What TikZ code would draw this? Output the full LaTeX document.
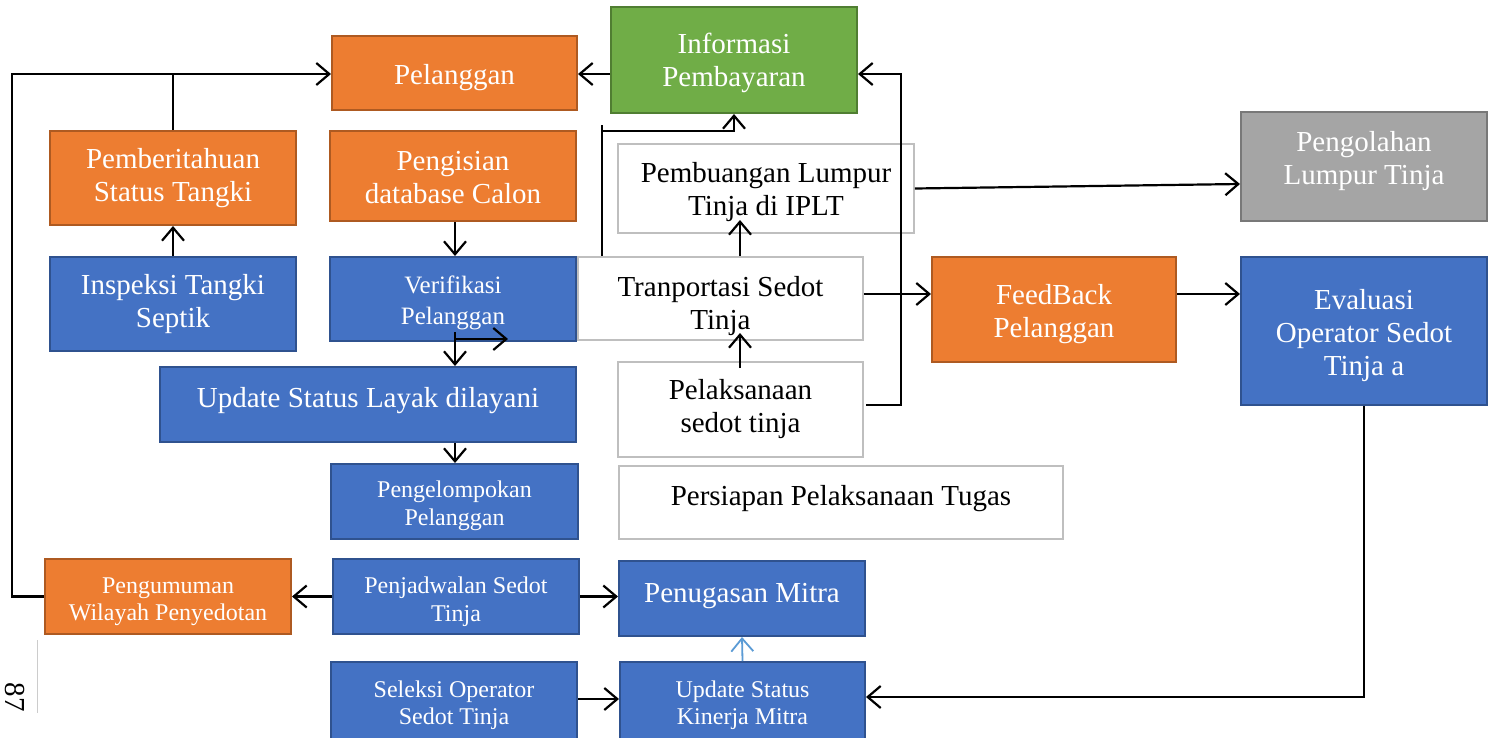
\documentclass[tikz,border=0pt]{standalone}
\usepackage{fontspec}
\setmainfont{Liberation Serif}
\usetikzlibrary{arrows.meta}
\definecolor{orgF}{HTML}{ED7D31}
\definecolor{orgD}{HTML}{AE5A21}
\definecolor{bluF}{HTML}{4472C4}
\definecolor{bluD}{HTML}{2F528F}
\definecolor{grnF}{HTML}{70AD47}
\definecolor{grnD}{HTML}{507E32}
\definecolor{gryF}{HTML}{A5A5A5}
\definecolor{gryD}{HTML}{787878}
\definecolor{wbD}{HTML}{BFBFBF}
\definecolor{ltblue}{HTML}{5B9BD5}
\newcommand\wst{\rule[-0.216em]{0pt}{1.107em}}
\newcommand\upby[1]{\rule[\dimexpr-0.216em-2\dimexpr#1\relax\relax]{0pt}{\dimexpr0.216em+2\dimexpr#1\relax\relax}}
\newcommand\downby[1]{\rule{0pt}{\dimexpr0.891em+2\dimexpr#1\relax\relax}}
\tikzset{
 box/.style={rectangle, inner sep=0pt, align=center, line width=2pt,
   execute at begin node=\wst, execute at end node=\wst},
 ob/.style={box, fill=orgF, draw=orgD, text=white},
 bb/.style={box, fill=bluF, draw=bluD, text=white},
 gb/.style={box, fill=grnF, draw=grnD, text=white},
 yb/.style={box, fill=gryF, draw=gryD, text=white},
 wb/.style={box, fill=white, draw=wbD, line width=1.6pt, text=black},
 big/.style={font=\fontsize{29}{33}\selectfont},
 mid/.style={font=\fontsize{25}{31}\selectfont},
 sml/.style={font=\fontsize{24}{27.5}\selectfont},
 arr/.style={line width=2.2pt, -{Straight Barb[length=13pt,width=22pt]}},
 ln/.style={line width=2.2pt},
 thinln/.style={line width=1.3pt},
}
\begin{document}
\begin{tikzpicture}[x=1pt,y=-1pt]
\useasboundingbox[fill=white] (0,0) rectangle (1489,737);
% boxes
\node[ob,big,minimum width=245pt,minimum height=74pt] (pel) at (454.5,73) {\downby{2pt}Pelanggan};
\node[gb,big,minimum width=246pt,minimum height=106pt] (inf) at (734,60) {\downby{0.5pt}Informasi\\Pembayaran};
\node[ob,big,minimum width=246pt,minimum height=94pt] (pem) at (173,178) {Pemberitahuan\\Status Tangki};
\node[ob,big,minimum width=246pt,minimum height=90pt] (pen) at (453,176) {\downby{1.5pt}Pengisian\\database Calon};
\node[bb,big,minimum width=246pt,minimum height=94pt] (ins) at (173,304) {Inspeksi Tangki\\Septik};
\node[bb,mid,minimum width=246pt,minimum height=84pt] (ver) at (453,299) {\downby{2pt}Verifikasi\\Pelanggan};
\node[wb,big,minimum width=285pt,minimum height=83pt] (tra) at (720.5,298.5) {\downby{5pt}Tranportasi Sedot\\Tinja};
\node[wb,big,minimum width=296pt,minimum height=89pt] (pbu) at (766,188.5) {\downby{1pt}Pembuangan Lumpur\\Tinja di IPLT};
\node[wb,big,minimum width=245pt,minimum height=95pt] (pla) at (740.5,409.5) {Pelaksanaan\\sedot tinja};
\node[ob,big,minimum width=244pt,minimum height=105pt] (fbk) at (1054,309.5) {\downby{1.5pt}FeedBack\\Pelanggan};
\node[yb,big,minimum width=246pt,minimum height=109pt] (pol) at (1364,166.5) {Pengolahan\\Lumpur Tinja\upby{5pt}};
\node[bb,big,minimum width=246pt,minimum height=148pt] (eva) at (1364,331) {\downby{2pt}Evaluasi\\Operator Sedot\\Tinja a};
\node[bb,big,minimum width=416pt,minimum height=75pt] (upl) at (368,404.5) {Update Status Layak dilayani\upby{7pt}};
\node[bb,sml,minimum width=247pt,minimum height=75pt] (pkl) at (454.5,501.5) {\downby{2pt}Pengelompokan\\Pelanggan};
\node[ob,sml,minimum width=246pt,minimum height=75pt] (pgm) at (168,596.5) {\downby{2.5pt}Pengumuman\\Wilayah Penyedotan};
\node[bb,sml,minimum width=246pt,minimum height=75pt] (pjd) at (456,596.5) {\downby{3pt}Penjadwalan Sedot\\Tinja};
\node[bb,big,minimum width=246pt,minimum height=75pt] (pgs) at (742,598.5) {Penugasan Mitra\upby{6pt}};
\node[bb,sml,minimum width=245pt,minimum height=80pt] (ukm) at (742.5,702) {\downby{1pt}Update Status\\Kinerja Mitra};
\node[bb,sml,minimum width=246pt,minimum height=80pt] (sel) at (454,702) {\downby{1pt}Seleksi Operator\\Sedot Tinja};
\node[wb,big,minimum width=444pt,minimum height=73pt] (per) at (841,502.5) {Persiapan Pelaksanaan Tugas\upby{7pt}};
% page number
\node[rotate=-90,font=\fontsize{29}{29}\selectfont] (pg) at (15,697) {87};
\coordinate (fl1) at (37,640);
\coordinate (fl2) at (37,713);
\draw[black!20,line width=0.8pt] (fl1) -- (fl2);
% helper coordinates
\coordinate (lft) at (12,0);
\coordinate (vj) at (455,332);
\coordinate (vs) at (455,339);
\coordinate (ve) at (508,339);
\coordinate (ek) at (1364,697);
\coordinate (fy) at (0,294);
\coordinate (pt) at (1241,184);
\coordinate (tx) at (740,220);
\coordinate (p0) at (740,368);
\coordinate (px) at (740,333);
\coordinate (pr) at (866,405);
\coordinate (vx) at (901,0);
\coordinate (t1) at (602,125);
\coordinate (h1) at (602,131);
\coordinate (h2) at (734,131);
\coordinate (ay) at (0,74);
\coordinate (sy) at (0,699);
% connectors
\draw[arr] (inf.west |- ay) -- (pel.east |- ay);
\draw[arr] (pgm.west) -- (pgm.west -| lft) -- (lft |- ay) -- (pel.west |- ay);
\draw[ln] (pem.north) -- (pem.north |- ay);
\draw[arr] (ins.north) -- (pem.south);
\draw[arr] (pen.south -| vj) -- (ver.north -| vj);
\draw[arr] (vj) -- (vj |- upl.north);
\draw[arr] (vs) -- (ve);
\draw[arr] (upl.south -| vj) -- (pkl.north -| vj);
\draw[arr] (pjd.west) -- (pgm.east);
\draw[arr] (pjd.east) -- (pgs.west |- pjd.east);
\draw[arr] (sel.east |- sy) -- (ukm.west |- sy);
\draw[arr,ltblue,line width=1.8pt] (ukm.north) -- (pgs.south);
\draw[arr] (eva.south) -- (ek) -- (ek -| ukm.east);
\draw[arr] (fbk.east |- fy) -- (eva.west |- fy);
\draw[arr] (tra.east |- fy) -- (fbk.west |- fy);
\draw[arr] (pbu.east) -- (pol.west |- pt);
\draw[arr] (tra.north -| tx) -- (tx);
\draw[arr] (p0) -- (px);
\draw[arr] (pr) -- (pr -| vx) -- (vx |- ay) -- (inf.east |- ay);
\draw[thinln] (t1) -- (t1 |- tra.north);
\draw[arr] (h1) -- (h2) -- (h2 |- inf.south);
\end{tikzpicture}
\end{document}
